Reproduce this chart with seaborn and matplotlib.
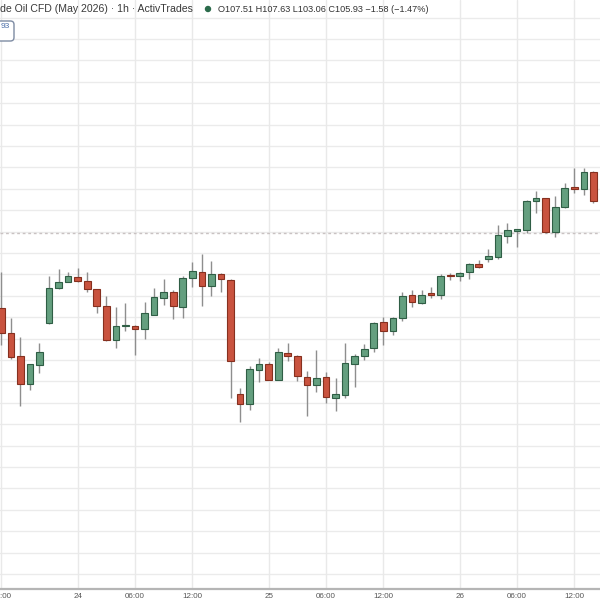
import numpy as np
import pandas as pd
import matplotlib
matplotlib.use("Agg")
import matplotlib.pyplot as plt
import seaborn as sns
from matplotlib.patches import FancyBboxPatch

# ---------------- data (hourly candles) ----------------
opens = [102.43, 101.25, 100.19, 98.88, 99.75, 101.74, 103.35, 103.66, 103.89, 103.69,
         103.30, 102.54, 100.93, 101.60, 101.60, 101.43, 102.10, 102.88, 103.19, 102.49,
         103.85, 104.13, 103.46, 104.02, 103.74, 98.40, 97.94, 99.53, 99.80, 99.07,
         100.34, 100.19, 99.22, 98.83, 99.22, 98.21, 98.36, 99.81, 100.20, 100.55,
         101.76, 101.36, 101.95, 103.04, 102.65, 103.14, 103.04, 103.93, 103.93, 104.13,
         104.49, 104.72, 104.80, 105.79, 106.03, 106.07, 107.43, 107.56, 106.00, 107.14,
         108.10, 107.98, 108.80]
highs = [104.11, 101.95, 101.09, 99.82, 100.78, 103.93, 104.24, 104.10, 104.31, 104.13,
         103.32, 102.99, 102.49, 102.68, 101.64, 102.72, 103.35, 103.77, 103.27, 103.93,
         104.59, 104.95, 104.64, 104.07, 103.79, 98.69, 99.72, 100.08, 99.92, 100.55,
         100.81, 100.21, 99.50, 100.47, 99.45, 99.15, 100.78, 100.28, 100.75, 101.78,
         102.02, 102.01, 103.19, 103.27, 103.27, 103.43, 104.02, 104.05, 104.13, 104.52,
         104.67, 105.19, 106.31, 106.39, 106.14, 107.48, 107.91, 107.57, 107.68, 108.26,
         108.96, 108.96, 108.83]
lows = [100.70, 100.05, 97.86, 98.60, 99.41, 101.70, 103.30, 103.64, 103.64, 103.19,
        102.21, 100.89, 100.57, 101.37, 100.23, 100.97, 102.08, 102.57, 101.90, 101.95,
        103.43, 102.54, 102.99, 103.19, 98.21, 97.12, 97.66, 98.99, 99.05, 99.05,
        99.97, 99.03, 97.40, 98.52, 98.00, 97.63, 98.22, 98.75, 100.00, 100.36,
        100.70, 101.17, 101.82, 102.46, 102.63, 102.88, 102.84, 103.74, 103.71, 103.77,
        104.30, 104.58, 104.72, 105.48, 105.29, 105.95, 106.86, 105.93, 105.76, 107.10,
        107.79, 107.71, 107.34]
closes = [101.26, 100.15, 98.88, 99.80, 100.37, 103.38, 103.66, 103.94, 103.69, 103.30,
          102.54, 100.93, 101.60, 101.61, 101.45, 102.18, 102.93, 103.19, 102.52, 103.85,
          104.17, 103.46, 104.02, 103.77, 99.97, 97.94, 99.59, 99.80, 99.07, 100.39,
          100.19, 99.25, 98.83, 99.15, 98.26, 98.40, 99.85, 100.20, 100.50, 101.74,
          101.36, 101.96, 102.99, 102.70, 103.04, 103.02, 103.94, 103.91, 104.08, 104.47,
          104.33, 104.87, 105.84, 106.07, 106.14, 107.44, 107.56, 105.97, 107.16, 108.05,
          107.98, 108.80, 107.43]

tick_positions = [0, 8, 14, 20, 28, 34, 40, 48, 54, 60]
tick_labels = ["12:00", "24", "06:00", "12:00", "25", "06:00", "12:00", "26", "06:00", "12:00"]

title_text = "de Oil CFD (May 2026) \u00b7 1h \u00b7 ActivTrades"
ohlc_text = "O107.51 H107.63 L103.06 C105.93 \u22121.58 (\u22121.47%)"
price_line = 105.93
badge_text = "93"

# ---------------- styling ----------------
sns.set_theme(style="white")
plt.rcParams["font.family"] = ["Liberation Sans", "DejaVu Sans"]

GREEN = "#649f7f"
GREEN_EDGE = "#2f5e45"
RED = "#c9533f"
RED_EDGE = "#86301f"
WICK = "#8e8e8e"

df = pd.DataFrame({"open": opens, "high": highs, "low": lows, "close": closes})
df["idx"] = np.arange(len(df))
df["up"] = df["close"] >= df["open"]
df["bottom"] = df[["open", "close"]].min(axis=1)
df["height"] = (df["close"] - df["open"]).abs().clip(lower=0.05)

fig = plt.figure(figsize=(6, 6), dpi=100)
ax = fig.add_axes([0, 11 / 600, 1, 589 / 600])

# grid
for p in np.arange(88, 118, 1.0):
    ax.axhline(p, color="#ebebeb", lw=1, zorder=0)
for t in tick_positions:
    ax.axvline(t, color="#e9e9e9", lw=1, zorder=0)

# price line
ax.axhline(price_line, color="#c9c2c2", lw=1, ls=(0, (2, 2)), zorder=1)

# wicks
ax.vlines(df["idx"], df["low"], df["high"], color=WICK, lw=1, zorder=2)

# bodies
cols = np.where(df["up"], GREEN, RED)
edges = np.where(df["up"], GREEN_EDGE, RED_EDGE)
ax.bar(df["idx"], df["height"], bottom=df["bottom"], width=0.7,
       color=cols, edgecolor=edges, linewidth=0.8, zorder=3)

ax.set_xlim(-0.136, 62.69)
ax.set_ylim(89.30, 116.82)
ax.set_yticks([])
ax.set_xticks(tick_positions)
ax.set_xticklabels(tick_labels, fontsize=5.8, color="#555555")
ax.tick_params(axis="x", length=0, pad=3)
for s in ["top", "left", "right"]:
    ax.spines[s].set_visible(False)
ax.spines["bottom"].set_color("#b5b5b5")
ax.spines["bottom"].set_linewidth(1.6)

# header texts
fig.text(0 / 600, 1 - 9 / 600, title_text, fontsize=7.6, color="#3a3a3a",
         ha="left", va="center")
fig.add_artist(plt.Circle((208 / 600, 1 - 9 / 600), 2.5 / 600, color="#2b6b4b",
                          transform=fig.transFigure))
fig.text(218 / 600, 1 - 9 / 600, ohlc_text, fontsize=6.6, color="#333333",
         ha="left", va="center")

# badge box
box = FancyBboxPatch((-12 / 600, 1 - 41 / 600), 26 / 600, 20 / 600,
                     boxstyle="round,pad=0,rounding_size=0.006",
                     transform=fig.transFigure, facecolor="white",
                     edgecolor="#7d8ba3", lw=1)
fig.add_artist(box)
fig.text(1 / 600, 1 - 26 / 600, badge_text, fontsize=6, color="#4a6ea8",
         ha="left", va="center")

fig.savefig("out.png", dpi=100)
